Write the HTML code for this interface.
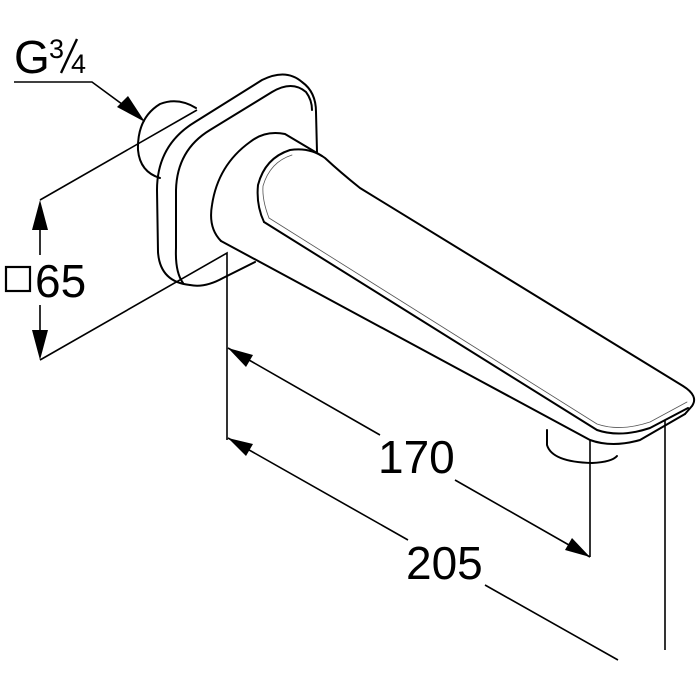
<!DOCTYPE html>
<html><head><style>
html,body{margin:0;padding:0;background:#fff;}
svg{display:block;}
text{font-family:"Liberation Sans",Arial,sans-serif;fill:#000;}
</style></head><body>
<svg width="700" height="700" viewBox="0 0 700 700" xmlns="http://www.w3.org/2000/svg">
<g fill="none" stroke="#000" stroke-width="2" stroke-linejoin="round" stroke-linecap="round">
<path d="M160,178 Q140,172 138,150 Q137,118 160,104 Q178,97 196,108"/>
<path d="M190,285 Q160,282 158,252 L157,190 Q157,145 195,122 L262,80 Q286,68 302,82 Q316,92 316,112 L317,152"/>
<path d="M183,283 Q175,272 176,248 L176,190 Q177,150 210,130 L272,92 Q292,80 306,92 Q312,100 312,110"/>
<path d="M190,285 Q205,288 223,278 L255,262" />
<path d="M221,241 Q208,228 212,205 Q218,165 250,142 Q265,130 285,134 L322,156"/>
<path d="M264,222 Q256,205 258,185 Q265,158 290,150 Q310,147 325,158 Q340,172 360,188 L683,386 Q699,396 692,406 L685,414"/>
<path d="M221,241 L590,440 Q612,448 640,440 L685,414"/>
<path d="M264,222 L597,430 Q620,438 650,428 L688,408"/>
<path d="M269,218 Q262,200 263,186 Q270,162 292,155" stroke-width="0.8" stroke="#555"/>
<path d="M269,218 L597,424 Q620,432 650,422 L687,402" stroke-width="0.8" stroke="#555"/>
<path d="M547,430 L547,445 Q552,462 592,463 Q612,462 617,456"/>
</g>
<g fill="none" stroke="#000" stroke-width="1.6">
<path d="M14,82 L92,82 L130,110"/>
<path d="M40,200 L197,110"/>
<path d="M40,360 L227,253 L227,440"/>
<path d="M40,228 L40,255 M40,305 L40,335"/>
<path d="M590,440 L590,557"/>
<path d="M665,420 L665,650"/>
<path d="M228,348 L380,435 M455,480 L590,557"/>
<path d="M228,438 L408,540 M485,585 L618,660"/>
</g>
<g fill="#000" stroke="none">
<polygon points="145,122 117,107 128,96"/>
<polygon points="40,200 32,230 48,230"/>
<polygon points="40,360 32,330 48,330"/>
<polygon points="228,348 253,355 246,367"/>
<polygon points="590,557 565,550 572,538"/>
<polygon points="228,438 253,444 246,456"/>
</g>
<text x="14" y="73" font-size="46">G</text>
<text x="49" y="58" font-size="27">3</text>
<line x1="77" y1="39" x2="61" y2="73" stroke="#000" stroke-width="2.4"/>
<text x="71" y="73" font-size="27">4</text>
<rect x="6" y="267" width="24" height="24" fill="none" stroke="#000" stroke-width="2.2"/>
<text x="35" y="297" font-size="46">65</text>
<text x="378" y="473" font-size="46">170</text>
<text x="406" y="579" font-size="46">205</text>
</svg>
</body></html>
